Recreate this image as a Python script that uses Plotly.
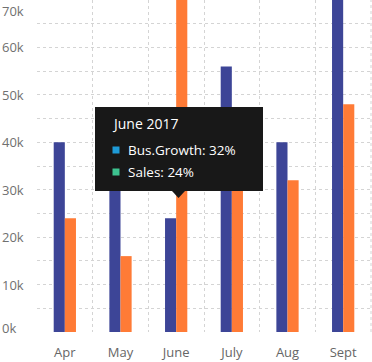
import plotly.graph_objects as go

months = ["Apr", "May", "June", "July", "Aug", "Sept"]
bus_growth = [40000, 36000, 24000, 56000, 40000, 78000]
sales = [24000, 16000, 75000, 34000, 32000, 48000]
y_tick_vals = [0, 10000, 20000, 30000, 40000, 50000, 60000, 70000]
y_tick_text = ["0k", "10k", "20k", "30k", "40k", "50k", "60k", "70k"]
tooltip_title = "June 2017"
tooltip_rows = [("Bus.Growth", "32%", "#1e9ad6"), ("Sales", "24%", "#3dc28f")]

BLUE = "#3d4597"
ORANGE = "#ff7b36"
GRID = "#d4d4d4"
FONT = "Open Sans"

fig = go.Figure()
fig.add_trace(go.Bar(x=months, y=bus_growth, name="Bus.Growth", marker=dict(color=BLUE, line=dict(width=0))))
fig.add_trace(go.Bar(x=months, y=sales, name="Sales", marker=dict(color=ORANGE, line=dict(width=0))))

fig.update_layout(
    width=372, height=362,
    margin=dict(l=37, r=1, t=0, b=30, autoexpand=False),
    paper_bgcolor="white", plot_bgcolor="white",
    barmode="group", bargap=0.6, bargroupgap=0,
    showlegend=False,
    font=dict(family=FONT, color="#707070", size=13),
)
fig.update_xaxes(
    type="category", tickson="boundaries", showgrid=True, gridcolor=GRID, griddash="dot", gridwidth=1,
    ticks="", ticklen=0, showline=False, zeroline=False, automargin=False,
    tickfont=dict(family=FONT, size=13, color="#666666"), ticklabelstandoff=11,
)
fig.update_yaxes(
    range=[0, 70000], tickvals=y_tick_vals, showticklabels=False,
    showgrid=True, gridcolor=GRID, griddash="dot", gridwidth=1,
    minor=dict(dtick=5000, showgrid=True, gridcolor=GRID, griddash="dot", gridwidth=1),
    zeroline=False, showline=False, ticks="", automargin=False,
)

# y tick labels, left aligned
for v, t in zip(y_tick_vals, y_tick_text):
    yanchor = "middle"
    shift = 0
    if v == y_tick_vals[-1]:
        yanchor, shift = "top", 0
    if v == y_tick_vals[0]:
        shift = 4
    fig.add_annotation(xref="paper", yref="y", x=-37 / 334, y=v, xanchor="left", yanchor=yanchor,
                       yshift=shift, text=t, showarrow=False,
                       font=dict(family=FONT, size=13, color="#707070"))

# right border dotted line
fig.add_shape(type="line", xref="paper", yref="paper", x0=1, x1=1, y0=0, y1=1,
              line=dict(color=GRID, width=1, dash="dot"))

# tooltip box (pixel -> paper conversion)
PW, PH, L = 334, 332, 37
def px(x):
    return (x - L) / PW
def py(y):
    return (PH - y) / PH

fig.add_shape(type="rect", xref="paper", yref="paper",
              x0=px(95), x1=px(263), y0=py(191), y1=py(107),
              fillcolor="#181818", line=dict(width=0), layer="above")
fig.add_shape(type="path", xref="paper", yref="paper",
              path=f"M {px(172)} {py(191)} L {px(185)} {py(191)} L {px(178.5)} {py(198)} Z",
              fillcolor="#181818", line=dict(width=0), layer="above")

fig.add_annotation(xref="paper", yref="paper", x=px(110), y=py(123), xanchor="left", yanchor="middle",
                   text=tooltip_title, showarrow=False,
                   font=dict(family=FONT, size=14, color="white"))
for i, (name, val, col) in enumerate(tooltip_rows):
    yy = 150 + i * 22
    fig.add_shape(type="rect", xref="paper", yref="paper",
                  x0=px(112.5), x1=px(119.5), y0=py(yy + 3.5), y1=py(yy - 3.5),
                  fillcolor=col, line=dict(width=0), layer="above")
    fig.add_annotation(xref="paper", yref="paper", x=px(126), y=py(yy), xanchor="left", yanchor="middle",
                       text=f"{name}: {val}", showarrow=False,
                       font=dict(family=FONT, size=13.5, color="white"))

fig.write_html("out.html", config={"displayModeBar": False},
               post_script="document.body.style.margin='0';document.body.style.overflow='hidden';")
